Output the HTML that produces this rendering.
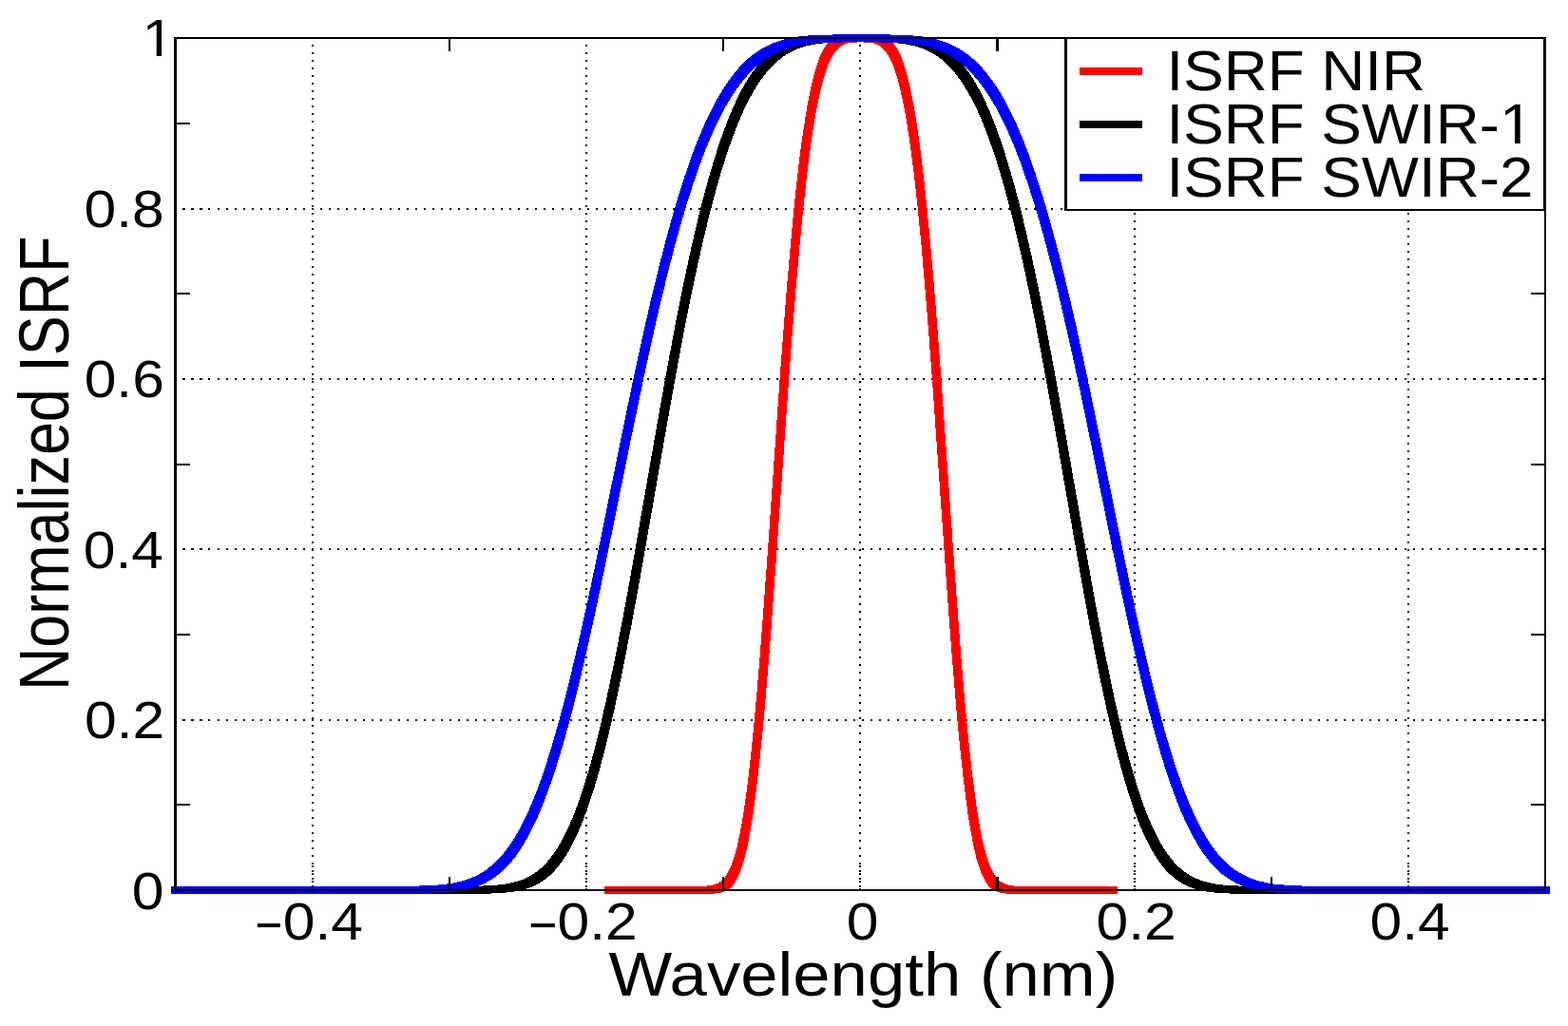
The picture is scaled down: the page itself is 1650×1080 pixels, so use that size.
<!DOCTYPE html>
<html><head><meta charset="utf-8"><title>Normalized ISRF vs Wavelength</title>
<style>html,body{margin:0;padding:0;background:#fff;overflow:hidden;}svg{display:block;}.t text{font-family:"Liberation Sans",Arial,Helvetica,sans-serif;}</style>
</head><body>
<svg width="1650" height="1080" viewBox="0 0 1650 1080">
<defs><clipPath id="c1"><rect x="0" y="0" width="400" height="54.09"/><rect x="164.61" y="0" width="5.39" height="100"/></clipPath><clipPath id="c2"><rect x="0" y="0" width="1650" height="145.73"/><rect x="0" y="0" width="1581.87" height="300"/><rect x="1594.05" y="0" width="5.67" height="300"/></clipPath></defs>
<rect width="1650" height="1080" fill="#fff"/>
<g><path fill="#000" d="M328 47h2v2h-2zM328 55h2v2h-2zM328 63h2v2h-2zM328 71h2v2h-2zM328 79h2v2h-2zM328 87h2v2h-2zM328 95h2v2h-2zM328 103h2v2h-2zM328 111h2v2h-2zM328 119h2v2h-2zM328 127h2v2h-2zM328 136h2v2h-2zM328 144h2v2h-2zM328 152h2v2h-2zM328 160h2v2h-2zM328 168h2v2h-2zM328 176h2v2h-2zM328 184h2v2h-2zM328 192h2v2h-2zM328 200h2v2h-2zM328 208h2v2h-2zM328 216h2v2h-2zM328 224h2v2h-2zM328 232h2v2h-2zM328 240h2v2h-2zM328 248h2v2h-2zM328 256h2v2h-2zM328 264h2v2h-2zM328 272h2v2h-2zM328 280h2v2h-2zM328 288h2v2h-2zM328 297h2v2h-2zM328 305h2v2h-2zM328 313h2v2h-2zM328 321h2v2h-2zM328 329h2v2h-2zM328 337h2v2h-2zM328 345h2v2h-2zM328 353h2v2h-2zM328 361h2v2h-2zM328 369h2v2h-2zM328 377h2v2h-2zM328 385h2v2h-2zM328 393h2v2h-2zM328 401h2v2h-2zM328 409h2v2h-2zM328 417h2v2h-2zM328 425h2v2h-2zM328 433h2v2h-2zM328 441h2v2h-2zM328 449h2v2h-2zM328 458h2v2h-2zM328 466h2v2h-2zM328 474h2v2h-2zM328 482h2v2h-2zM328 490h2v2h-2zM328 498h2v2h-2zM328 506h2v2h-2zM328 514h2v2h-2zM328 522h2v2h-2zM328 530h2v2h-2zM328 538h2v2h-2zM328 546h2v2h-2zM328 554h2v2h-2zM328 562h2v2h-2zM328 570h2v2h-2zM328 578h2v2h-2zM328 586h2v2h-2zM328 594h2v2h-2zM328 602h2v2h-2zM328 610h2v2h-2zM328 619h2v2h-2zM328 627h2v2h-2zM328 635h2v2h-2zM328 643h2v2h-2zM328 651h2v2h-2zM328 659h2v2h-2zM328 667h2v2h-2zM328 675h2v2h-2zM328 683h2v2h-2zM328 691h2v2h-2zM328 699h2v2h-2zM328 707h2v2h-2zM328 715h2v2h-2zM328 723h2v2h-2zM328 731h2v2h-2zM328 739h2v2h-2zM328 747h2v2h-2zM328 755h2v2h-2zM328 763h2v2h-2zM328 771h2v2h-2zM328 780h2v2h-2zM328 788h2v2h-2zM328 796h2v2h-2zM328 804h2v2h-2zM328 812h2v2h-2zM328 820h2v2h-2zM328 828h2v2h-2zM328 836h2v2h-2zM328 844h2v2h-2zM328 852h2v2h-2zM328 860h2v2h-2zM328 868h2v2h-2zM328 876h2v2h-2zM328 884h2v2h-2zM328 892h2v2h-2zM328 900h2v2h-2zM328 908h2v2h-2zM328 916h2v2h-2zM328 924h2v2h-2zM328 932h2v2h-2zM616 47h2v2h-2zM616 55h2v2h-2zM616 63h2v2h-2zM616 71h2v2h-2zM616 79h2v2h-2zM616 87h2v2h-2zM616 95h2v2h-2zM616 103h2v2h-2zM616 111h2v2h-2zM616 119h2v2h-2zM616 127h2v2h-2zM616 136h2v2h-2zM616 144h2v2h-2zM616 152h2v2h-2zM616 160h2v2h-2zM616 168h2v2h-2zM616 176h2v2h-2zM616 184h2v2h-2zM616 192h2v2h-2zM616 200h2v2h-2zM616 208h2v2h-2zM616 216h2v2h-2zM616 224h2v2h-2zM616 232h2v2h-2zM616 240h2v2h-2zM616 248h2v2h-2zM616 256h2v2h-2zM616 264h2v2h-2zM616 272h2v2h-2zM616 280h2v2h-2zM616 288h2v2h-2zM616 297h2v2h-2zM616 305h2v2h-2zM616 313h2v2h-2zM616 321h2v2h-2zM616 329h2v2h-2zM616 337h2v2h-2zM616 345h2v2h-2zM616 353h2v2h-2zM616 361h2v2h-2zM616 369h2v2h-2zM616 377h2v2h-2zM616 385h2v2h-2zM616 393h2v2h-2zM616 401h2v2h-2zM616 409h2v2h-2zM616 417h2v2h-2zM616 425h2v2h-2zM616 433h2v2h-2zM616 441h2v2h-2zM616 449h2v2h-2zM616 458h2v2h-2zM616 466h2v2h-2zM616 474h2v2h-2zM616 482h2v2h-2zM616 490h2v2h-2zM616 498h2v2h-2zM616 506h2v2h-2zM616 514h2v2h-2zM616 522h2v2h-2zM616 530h2v2h-2zM616 538h2v2h-2zM616 546h2v2h-2zM616 554h2v2h-2zM616 562h2v2h-2zM616 570h2v2h-2zM616 578h2v2h-2zM616 586h2v2h-2zM616 594h2v2h-2zM616 602h2v2h-2zM616 610h2v2h-2zM616 619h2v2h-2zM616 627h2v2h-2zM616 635h2v2h-2zM616 643h2v2h-2zM616 651h2v2h-2zM616 659h2v2h-2zM616 667h2v2h-2zM616 675h2v2h-2zM616 683h2v2h-2zM616 691h2v2h-2zM616 699h2v2h-2zM616 707h2v2h-2zM616 715h2v2h-2zM616 723h2v2h-2zM616 731h2v2h-2zM616 739h2v2h-2zM616 747h2v2h-2zM616 755h2v2h-2zM616 763h2v2h-2zM616 771h2v2h-2zM616 780h2v2h-2zM616 788h2v2h-2zM616 796h2v2h-2zM616 804h2v2h-2zM616 812h2v2h-2zM616 820h2v2h-2zM616 828h2v2h-2zM616 836h2v2h-2zM616 844h2v2h-2zM616 852h2v2h-2zM616 860h2v2h-2zM616 868h2v2h-2zM616 876h2v2h-2zM616 884h2v2h-2zM616 892h2v2h-2zM616 900h2v2h-2zM616 908h2v2h-2zM616 916h2v2h-2zM616 924h2v2h-2zM616 932h2v2h-2zM904 47h2v2h-2zM904 55h2v2h-2zM904 63h2v2h-2zM904 71h2v2h-2zM904 79h2v2h-2zM904 87h2v2h-2zM904 95h2v2h-2zM904 103h2v2h-2zM904 111h2v2h-2zM904 119h2v2h-2zM904 127h2v2h-2zM904 136h2v2h-2zM904 144h2v2h-2zM904 152h2v2h-2zM904 160h2v2h-2zM904 168h2v2h-2zM904 176h2v2h-2zM904 184h2v2h-2zM904 192h2v2h-2zM904 200h2v2h-2zM904 208h2v2h-2zM904 216h2v2h-2zM904 224h2v2h-2zM904 232h2v2h-2zM904 240h2v2h-2zM904 248h2v2h-2zM904 256h2v2h-2zM904 264h2v2h-2zM904 272h2v2h-2zM904 280h2v2h-2zM904 288h2v2h-2zM904 297h2v2h-2zM904 305h2v2h-2zM904 313h2v2h-2zM904 321h2v2h-2zM904 329h2v2h-2zM904 337h2v2h-2zM904 345h2v2h-2zM904 353h2v2h-2zM904 361h2v2h-2zM904 369h2v2h-2zM904 377h2v2h-2zM904 385h2v2h-2zM904 393h2v2h-2zM904 401h2v2h-2zM904 409h2v2h-2zM904 417h2v2h-2zM904 425h2v2h-2zM904 433h2v2h-2zM904 441h2v2h-2zM904 449h2v2h-2zM904 458h2v2h-2zM904 466h2v2h-2zM904 474h2v2h-2zM904 482h2v2h-2zM904 490h2v2h-2zM904 498h2v2h-2zM904 506h2v2h-2zM904 514h2v2h-2zM904 522h2v2h-2zM904 530h2v2h-2zM904 538h2v2h-2zM904 546h2v2h-2zM904 554h2v2h-2zM904 562h2v2h-2zM904 570h2v2h-2zM904 578h2v2h-2zM904 586h2v2h-2zM904 594h2v2h-2zM904 602h2v2h-2zM904 610h2v2h-2zM904 619h2v2h-2zM904 627h2v2h-2zM904 635h2v2h-2zM904 643h2v2h-2zM904 651h2v2h-2zM904 659h2v2h-2zM904 667h2v2h-2zM904 675h2v2h-2zM904 683h2v2h-2zM904 691h2v2h-2zM904 699h2v2h-2zM904 707h2v2h-2zM904 715h2v2h-2zM904 723h2v2h-2zM904 731h2v2h-2zM904 739h2v2h-2zM904 747h2v2h-2zM904 755h2v2h-2zM904 763h2v2h-2zM904 771h2v2h-2zM904 780h2v2h-2zM904 788h2v2h-2zM904 796h2v2h-2zM904 804h2v2h-2zM904 812h2v2h-2zM904 820h2v2h-2zM904 828h2v2h-2zM904 836h2v2h-2zM904 844h2v2h-2zM904 852h2v2h-2zM904 860h2v2h-2zM904 868h2v2h-2zM904 876h2v2h-2zM904 884h2v2h-2zM904 892h2v2h-2zM904 900h2v2h-2zM904 908h2v2h-2zM904 916h2v2h-2zM904 924h2v2h-2zM904 932h2v2h-2zM1193 47h2v2h-2zM1193 55h2v2h-2zM1193 63h2v2h-2zM1193 71h2v2h-2zM1193 79h2v2h-2zM1193 87h2v2h-2zM1193 95h2v2h-2zM1193 103h2v2h-2zM1193 111h2v2h-2zM1193 119h2v2h-2zM1193 127h2v2h-2zM1193 136h2v2h-2zM1193 144h2v2h-2zM1193 152h2v2h-2zM1193 160h2v2h-2zM1193 168h2v2h-2zM1193 176h2v2h-2zM1193 184h2v2h-2zM1193 192h2v2h-2zM1193 200h2v2h-2zM1193 208h2v2h-2zM1193 216h2v2h-2zM1193 224h2v2h-2zM1193 232h2v2h-2zM1193 240h2v2h-2zM1193 248h2v2h-2zM1193 256h2v2h-2zM1193 264h2v2h-2zM1193 272h2v2h-2zM1193 280h2v2h-2zM1193 288h2v2h-2zM1193 297h2v2h-2zM1193 305h2v2h-2zM1193 313h2v2h-2zM1193 321h2v2h-2zM1193 329h2v2h-2zM1193 337h2v2h-2zM1193 345h2v2h-2zM1193 353h2v2h-2zM1193 361h2v2h-2zM1193 369h2v2h-2zM1193 377h2v2h-2zM1193 385h2v2h-2zM1193 393h2v2h-2zM1193 401h2v2h-2zM1193 409h2v2h-2zM1193 417h2v2h-2zM1193 425h2v2h-2zM1193 433h2v2h-2zM1193 441h2v2h-2zM1193 449h2v2h-2zM1193 458h2v2h-2zM1193 466h2v2h-2zM1193 474h2v2h-2zM1193 482h2v2h-2zM1193 490h2v2h-2zM1193 498h2v2h-2zM1193 506h2v2h-2zM1193 514h2v2h-2zM1193 522h2v2h-2zM1193 530h2v2h-2zM1193 538h2v2h-2zM1193 546h2v2h-2zM1193 554h2v2h-2zM1193 562h2v2h-2zM1193 570h2v2h-2zM1193 578h2v2h-2zM1193 586h2v2h-2zM1193 594h2v2h-2zM1193 602h2v2h-2zM1193 610h2v2h-2zM1193 619h2v2h-2zM1193 627h2v2h-2zM1193 635h2v2h-2zM1193 643h2v2h-2zM1193 651h2v2h-2zM1193 659h2v2h-2zM1193 667h2v2h-2zM1193 675h2v2h-2zM1193 683h2v2h-2zM1193 691h2v2h-2zM1193 699h2v2h-2zM1193 707h2v2h-2zM1193 715h2v2h-2zM1193 723h2v2h-2zM1193 731h2v2h-2zM1193 739h2v2h-2zM1193 747h2v2h-2zM1193 755h2v2h-2zM1193 763h2v2h-2zM1193 771h2v2h-2zM1193 780h2v2h-2zM1193 788h2v2h-2zM1193 796h2v2h-2zM1193 804h2v2h-2zM1193 812h2v2h-2zM1193 820h2v2h-2zM1193 828h2v2h-2zM1193 836h2v2h-2zM1193 844h2v2h-2zM1193 852h2v2h-2zM1193 860h2v2h-2zM1193 868h2v2h-2zM1193 876h2v2h-2zM1193 884h2v2h-2zM1193 892h2v2h-2zM1193 900h2v2h-2zM1193 908h2v2h-2zM1193 916h2v2h-2zM1193 924h2v2h-2zM1193 932h2v2h-2zM1481 47h2v2h-2zM1481 55h2v2h-2zM1481 63h2v2h-2zM1481 71h2v2h-2zM1481 79h2v2h-2zM1481 87h2v2h-2zM1481 95h2v2h-2zM1481 103h2v2h-2zM1481 111h2v2h-2zM1481 119h2v2h-2zM1481 127h2v2h-2zM1481 136h2v2h-2zM1481 144h2v2h-2zM1481 152h2v2h-2zM1481 160h2v2h-2zM1481 168h2v2h-2zM1481 176h2v2h-2zM1481 184h2v2h-2zM1481 192h2v2h-2zM1481 200h2v2h-2zM1481 208h2v2h-2zM1481 216h2v2h-2zM1481 224h2v2h-2zM1481 232h2v2h-2zM1481 240h2v2h-2zM1481 248h2v2h-2zM1481 256h2v2h-2zM1481 264h2v2h-2zM1481 272h2v2h-2zM1481 280h2v2h-2zM1481 288h2v2h-2zM1481 297h2v2h-2zM1481 305h2v2h-2zM1481 313h2v2h-2zM1481 321h2v2h-2zM1481 329h2v2h-2zM1481 337h2v2h-2zM1481 345h2v2h-2zM1481 353h2v2h-2zM1481 361h2v2h-2zM1481 369h2v2h-2zM1481 377h2v2h-2zM1481 385h2v2h-2zM1481 393h2v2h-2zM1481 401h2v2h-2zM1481 409h2v2h-2zM1481 417h2v2h-2zM1481 425h2v2h-2zM1481 433h2v2h-2zM1481 441h2v2h-2zM1481 449h2v2h-2zM1481 458h2v2h-2zM1481 466h2v2h-2zM1481 474h2v2h-2zM1481 482h2v2h-2zM1481 490h2v2h-2zM1481 498h2v2h-2zM1481 506h2v2h-2zM1481 514h2v2h-2zM1481 522h2v2h-2zM1481 530h2v2h-2zM1481 538h2v2h-2zM1481 546h2v2h-2zM1481 554h2v2h-2zM1481 562h2v2h-2zM1481 570h2v2h-2zM1481 578h2v2h-2zM1481 586h2v2h-2zM1481 594h2v2h-2zM1481 602h2v2h-2zM1481 610h2v2h-2zM1481 619h2v2h-2zM1481 627h2v2h-2zM1481 635h2v2h-2zM1481 643h2v2h-2zM1481 651h2v2h-2zM1481 659h2v2h-2zM1481 667h2v2h-2zM1481 675h2v2h-2zM1481 683h2v2h-2zM1481 691h2v2h-2zM1481 699h2v2h-2zM1481 707h2v2h-2zM1481 715h2v2h-2zM1481 723h2v2h-2zM1481 731h2v2h-2zM1481 739h2v2h-2zM1481 747h2v2h-2zM1481 755h2v2h-2zM1481 763h2v2h-2zM1481 771h2v2h-2zM1481 780h2v2h-2zM1481 788h2v2h-2zM1481 796h2v2h-2zM1481 804h2v2h-2zM1481 812h2v2h-2zM1481 820h2v2h-2zM1481 828h2v2h-2zM1481 836h2v2h-2zM1481 844h2v2h-2zM1481 852h2v2h-2zM1481 860h2v2h-2zM1481 868h2v2h-2zM1481 876h2v2h-2zM1481 884h2v2h-2zM1481 892h2v2h-2zM1481 900h2v2h-2zM1481 908h2v2h-2zM1481 916h2v2h-2zM1481 924h2v2h-2zM1481 932h2v2h-2zM192 219h2v2h-2zM201 219h2v2h-2zM210 219h2v2h-2zM219 219h2v2h-2zM229 219h2v2h-2zM238 219h2v2h-2zM247 219h2v2h-2zM256 219h2v2h-2zM265 219h2v2h-2zM274 219h2v2h-2zM283 219h2v2h-2zM292 219h2v2h-2zM301 219h2v2h-2zM310 219h2v2h-2zM319 219h2v2h-2zM328 219h2v2h-2zM337 219h2v2h-2zM346 219h2v2h-2zM355 219h2v2h-2zM364 219h2v2h-2zM373 219h2v2h-2zM382 219h2v2h-2zM391 219h2v2h-2zM400 219h2v2h-2zM410 219h2v2h-2zM419 219h2v2h-2zM428 219h2v2h-2zM437 219h2v2h-2zM446 219h2v2h-2zM455 219h2v2h-2zM464 219h2v2h-2zM473 219h2v2h-2zM482 219h2v2h-2zM491 219h2v2h-2zM500 219h2v2h-2zM509 219h2v2h-2zM518 219h2v2h-2zM527 219h2v2h-2zM536 219h2v2h-2zM545 219h2v2h-2zM554 219h2v2h-2zM563 219h2v2h-2zM572 219h2v2h-2zM581 219h2v2h-2zM591 219h2v2h-2zM600 219h2v2h-2zM609 219h2v2h-2zM618 219h2v2h-2zM627 219h2v2h-2zM636 219h2v2h-2zM645 219h2v2h-2zM654 219h2v2h-2zM663 219h2v2h-2zM672 219h2v2h-2zM681 219h2v2h-2zM690 219h2v2h-2zM699 219h2v2h-2zM708 219h2v2h-2zM717 219h2v2h-2zM726 219h2v2h-2zM735 219h2v2h-2zM744 219h2v2h-2zM753 219h2v2h-2zM763 219h2v2h-2zM772 219h2v2h-2zM781 219h2v2h-2zM790 219h2v2h-2zM799 219h2v2h-2zM808 219h2v2h-2zM817 219h2v2h-2zM826 219h2v2h-2zM835 219h2v2h-2zM844 219h2v2h-2zM853 219h2v2h-2zM862 219h2v2h-2zM871 219h2v2h-2zM880 219h2v2h-2zM889 219h2v2h-2zM898 219h2v2h-2zM907 219h2v2h-2zM916 219h2v2h-2zM925 219h2v2h-2zM934 219h2v2h-2zM944 219h2v2h-2zM953 219h2v2h-2zM962 219h2v2h-2zM971 219h2v2h-2zM980 219h2v2h-2zM989 219h2v2h-2zM998 219h2v2h-2zM1007 219h2v2h-2zM1016 219h2v2h-2zM1025 219h2v2h-2zM1034 219h2v2h-2zM1043 219h2v2h-2zM1052 219h2v2h-2zM1061 219h2v2h-2zM1070 219h2v2h-2zM1079 219h2v2h-2zM1088 219h2v2h-2zM1097 219h2v2h-2zM1106 219h2v2h-2zM1116 219h2v2h-2zM1125 219h2v2h-2zM1134 219h2v2h-2zM1143 219h2v2h-2zM1152 219h2v2h-2zM1161 219h2v2h-2zM1170 219h2v2h-2zM1179 219h2v2h-2zM1188 219h2v2h-2zM1197 219h2v2h-2zM1206 219h2v2h-2zM1215 219h2v2h-2zM1224 219h2v2h-2zM1233 219h2v2h-2zM1242 219h2v2h-2zM1251 219h2v2h-2zM1260 219h2v2h-2zM1269 219h2v2h-2zM1278 219h2v2h-2zM1287 219h2v2h-2zM1297 219h2v2h-2zM1306 219h2v2h-2zM1315 219h2v2h-2zM1324 219h2v2h-2zM1333 219h2v2h-2zM1342 219h2v2h-2zM1351 219h2v2h-2zM1360 219h2v2h-2zM1369 219h2v2h-2zM1378 219h2v2h-2zM1387 219h2v2h-2zM1396 219h2v2h-2zM1405 219h2v2h-2zM1414 219h2v2h-2zM1423 219h2v2h-2zM1432 219h2v2h-2zM1441 219h2v2h-2zM1450 219h2v2h-2zM1459 219h2v2h-2zM1468 219h2v2h-2zM1478 219h2v2h-2zM1487 219h2v2h-2zM1496 219h2v2h-2zM1505 219h2v2h-2zM1514 219h2v2h-2zM1523 219h2v2h-2zM1532 219h2v2h-2zM1541 219h2v2h-2zM1550 219h2v2h-2zM1559 219h2v2h-2zM1568 219h2v2h-2zM1577 219h2v2h-2zM1586 219h2v2h-2zM1595 219h2v2h-2zM1604 219h2v2h-2zM1613 219h2v2h-2zM1622 219h2v2h-2zM192 398h2v2h-2zM201 398h2v2h-2zM210 398h2v2h-2zM219 398h2v2h-2zM229 398h2v2h-2zM238 398h2v2h-2zM247 398h2v2h-2zM256 398h2v2h-2zM265 398h2v2h-2zM274 398h2v2h-2zM283 398h2v2h-2zM292 398h2v2h-2zM301 398h2v2h-2zM310 398h2v2h-2zM319 398h2v2h-2zM328 398h2v2h-2zM337 398h2v2h-2zM346 398h2v2h-2zM355 398h2v2h-2zM364 398h2v2h-2zM373 398h2v2h-2zM382 398h2v2h-2zM391 398h2v2h-2zM400 398h2v2h-2zM410 398h2v2h-2zM419 398h2v2h-2zM428 398h2v2h-2zM437 398h2v2h-2zM446 398h2v2h-2zM455 398h2v2h-2zM464 398h2v2h-2zM473 398h2v2h-2zM482 398h2v2h-2zM491 398h2v2h-2zM500 398h2v2h-2zM509 398h2v2h-2zM518 398h2v2h-2zM527 398h2v2h-2zM536 398h2v2h-2zM545 398h2v2h-2zM554 398h2v2h-2zM563 398h2v2h-2zM572 398h2v2h-2zM581 398h2v2h-2zM591 398h2v2h-2zM600 398h2v2h-2zM609 398h2v2h-2zM618 398h2v2h-2zM627 398h2v2h-2zM636 398h2v2h-2zM645 398h2v2h-2zM654 398h2v2h-2zM663 398h2v2h-2zM672 398h2v2h-2zM681 398h2v2h-2zM690 398h2v2h-2zM699 398h2v2h-2zM708 398h2v2h-2zM717 398h2v2h-2zM726 398h2v2h-2zM735 398h2v2h-2zM744 398h2v2h-2zM753 398h2v2h-2zM763 398h2v2h-2zM772 398h2v2h-2zM781 398h2v2h-2zM790 398h2v2h-2zM799 398h2v2h-2zM808 398h2v2h-2zM817 398h2v2h-2zM826 398h2v2h-2zM835 398h2v2h-2zM844 398h2v2h-2zM853 398h2v2h-2zM862 398h2v2h-2zM871 398h2v2h-2zM880 398h2v2h-2zM889 398h2v2h-2zM898 398h2v2h-2zM907 398h2v2h-2zM916 398h2v2h-2zM925 398h2v2h-2zM934 398h2v2h-2zM944 398h2v2h-2zM953 398h2v2h-2zM962 398h2v2h-2zM971 398h2v2h-2zM980 398h2v2h-2zM989 398h2v2h-2zM998 398h2v2h-2zM1007 398h2v2h-2zM1016 398h2v2h-2zM1025 398h2v2h-2zM1034 398h2v2h-2zM1043 398h2v2h-2zM1052 398h2v2h-2zM1061 398h2v2h-2zM1070 398h2v2h-2zM1079 398h2v2h-2zM1088 398h2v2h-2zM1097 398h2v2h-2zM1106 398h2v2h-2zM1116 398h2v2h-2zM1125 398h2v2h-2zM1134 398h2v2h-2zM1143 398h2v2h-2zM1152 398h2v2h-2zM1161 398h2v2h-2zM1170 398h2v2h-2zM1179 398h2v2h-2zM1188 398h2v2h-2zM1197 398h2v2h-2zM1206 398h2v2h-2zM1215 398h2v2h-2zM1224 398h2v2h-2zM1233 398h2v2h-2zM1242 398h2v2h-2zM1251 398h2v2h-2zM1260 398h2v2h-2zM1269 398h2v2h-2zM1278 398h2v2h-2zM1287 398h2v2h-2zM1297 398h2v2h-2zM1306 398h2v2h-2zM1315 398h2v2h-2zM1324 398h2v2h-2zM1333 398h2v2h-2zM1342 398h2v2h-2zM1351 398h2v2h-2zM1360 398h2v2h-2zM1369 398h2v2h-2zM1378 398h2v2h-2zM1387 398h2v2h-2zM1396 398h2v2h-2zM1405 398h2v2h-2zM1414 398h2v2h-2zM1423 398h2v2h-2zM1432 398h2v2h-2zM1441 398h2v2h-2zM1450 398h2v2h-2zM1459 398h2v2h-2zM1468 398h2v2h-2zM1478 398h2v2h-2zM1487 398h2v2h-2zM1496 398h2v2h-2zM1505 398h2v2h-2zM1514 398h2v2h-2zM1523 398h2v2h-2zM1532 398h2v2h-2zM1541 398h2v2h-2zM1550 398h2v2h-2zM1559 398h2v2h-2zM1568 398h2v2h-2zM1577 398h2v2h-2zM1586 398h2v2h-2zM1595 398h2v2h-2zM1604 398h2v2h-2zM1613 398h2v2h-2zM1622 398h2v2h-2zM192 577h2v2h-2zM201 577h2v2h-2zM210 577h2v2h-2zM219 577h2v2h-2zM229 577h2v2h-2zM238 577h2v2h-2zM247 577h2v2h-2zM256 577h2v2h-2zM265 577h2v2h-2zM274 577h2v2h-2zM283 577h2v2h-2zM292 577h2v2h-2zM301 577h2v2h-2zM310 577h2v2h-2zM319 577h2v2h-2zM328 577h2v2h-2zM337 577h2v2h-2zM346 577h2v2h-2zM355 577h2v2h-2zM364 577h2v2h-2zM373 577h2v2h-2zM382 577h2v2h-2zM391 577h2v2h-2zM400 577h2v2h-2zM410 577h2v2h-2zM419 577h2v2h-2zM428 577h2v2h-2zM437 577h2v2h-2zM446 577h2v2h-2zM455 577h2v2h-2zM464 577h2v2h-2zM473 577h2v2h-2zM482 577h2v2h-2zM491 577h2v2h-2zM500 577h2v2h-2zM509 577h2v2h-2zM518 577h2v2h-2zM527 577h2v2h-2zM536 577h2v2h-2zM545 577h2v2h-2zM554 577h2v2h-2zM563 577h2v2h-2zM572 577h2v2h-2zM581 577h2v2h-2zM591 577h2v2h-2zM600 577h2v2h-2zM609 577h2v2h-2zM618 577h2v2h-2zM627 577h2v2h-2zM636 577h2v2h-2zM645 577h2v2h-2zM654 577h2v2h-2zM663 577h2v2h-2zM672 577h2v2h-2zM681 577h2v2h-2zM690 577h2v2h-2zM699 577h2v2h-2zM708 577h2v2h-2zM717 577h2v2h-2zM726 577h2v2h-2zM735 577h2v2h-2zM744 577h2v2h-2zM753 577h2v2h-2zM763 577h2v2h-2zM772 577h2v2h-2zM781 577h2v2h-2zM790 577h2v2h-2zM799 577h2v2h-2zM808 577h2v2h-2zM817 577h2v2h-2zM826 577h2v2h-2zM835 577h2v2h-2zM844 577h2v2h-2zM853 577h2v2h-2zM862 577h2v2h-2zM871 577h2v2h-2zM880 577h2v2h-2zM889 577h2v2h-2zM898 577h2v2h-2zM907 577h2v2h-2zM916 577h2v2h-2zM925 577h2v2h-2zM934 577h2v2h-2zM944 577h2v2h-2zM953 577h2v2h-2zM962 577h2v2h-2zM971 577h2v2h-2zM980 577h2v2h-2zM989 577h2v2h-2zM998 577h2v2h-2zM1007 577h2v2h-2zM1016 577h2v2h-2zM1025 577h2v2h-2zM1034 577h2v2h-2zM1043 577h2v2h-2zM1052 577h2v2h-2zM1061 577h2v2h-2zM1070 577h2v2h-2zM1079 577h2v2h-2zM1088 577h2v2h-2zM1097 577h2v2h-2zM1106 577h2v2h-2zM1116 577h2v2h-2zM1125 577h2v2h-2zM1134 577h2v2h-2zM1143 577h2v2h-2zM1152 577h2v2h-2zM1161 577h2v2h-2zM1170 577h2v2h-2zM1179 577h2v2h-2zM1188 577h2v2h-2zM1197 577h2v2h-2zM1206 577h2v2h-2zM1215 577h2v2h-2zM1224 577h2v2h-2zM1233 577h2v2h-2zM1242 577h2v2h-2zM1251 577h2v2h-2zM1260 577h2v2h-2zM1269 577h2v2h-2zM1278 577h2v2h-2zM1287 577h2v2h-2zM1297 577h2v2h-2zM1306 577h2v2h-2zM1315 577h2v2h-2zM1324 577h2v2h-2zM1333 577h2v2h-2zM1342 577h2v2h-2zM1351 577h2v2h-2zM1360 577h2v2h-2zM1369 577h2v2h-2zM1378 577h2v2h-2zM1387 577h2v2h-2zM1396 577h2v2h-2zM1405 577h2v2h-2zM1414 577h2v2h-2zM1423 577h2v2h-2zM1432 577h2v2h-2zM1441 577h2v2h-2zM1450 577h2v2h-2zM1459 577h2v2h-2zM1468 577h2v2h-2zM1478 577h2v2h-2zM1487 577h2v2h-2zM1496 577h2v2h-2zM1505 577h2v2h-2zM1514 577h2v2h-2zM1523 577h2v2h-2zM1532 577h2v2h-2zM1541 577h2v2h-2zM1550 577h2v2h-2zM1559 577h2v2h-2zM1568 577h2v2h-2zM1577 577h2v2h-2zM1586 577h2v2h-2zM1595 577h2v2h-2zM1604 577h2v2h-2zM1613 577h2v2h-2zM1622 577h2v2h-2zM192 757h2v2h-2zM201 757h2v2h-2zM210 757h2v2h-2zM219 757h2v2h-2zM229 757h2v2h-2zM238 757h2v2h-2zM247 757h2v2h-2zM256 757h2v2h-2zM265 757h2v2h-2zM274 757h2v2h-2zM283 757h2v2h-2zM292 757h2v2h-2zM301 757h2v2h-2zM310 757h2v2h-2zM319 757h2v2h-2zM328 757h2v2h-2zM337 757h2v2h-2zM346 757h2v2h-2zM355 757h2v2h-2zM364 757h2v2h-2zM373 757h2v2h-2zM382 757h2v2h-2zM391 757h2v2h-2zM400 757h2v2h-2zM410 757h2v2h-2zM419 757h2v2h-2zM428 757h2v2h-2zM437 757h2v2h-2zM446 757h2v2h-2zM455 757h2v2h-2zM464 757h2v2h-2zM473 757h2v2h-2zM482 757h2v2h-2zM491 757h2v2h-2zM500 757h2v2h-2zM509 757h2v2h-2zM518 757h2v2h-2zM527 757h2v2h-2zM536 757h2v2h-2zM545 757h2v2h-2zM554 757h2v2h-2zM563 757h2v2h-2zM572 757h2v2h-2zM581 757h2v2h-2zM591 757h2v2h-2zM600 757h2v2h-2zM609 757h2v2h-2zM618 757h2v2h-2zM627 757h2v2h-2zM636 757h2v2h-2zM645 757h2v2h-2zM654 757h2v2h-2zM663 757h2v2h-2zM672 757h2v2h-2zM681 757h2v2h-2zM690 757h2v2h-2zM699 757h2v2h-2zM708 757h2v2h-2zM717 757h2v2h-2zM726 757h2v2h-2zM735 757h2v2h-2zM744 757h2v2h-2zM753 757h2v2h-2zM763 757h2v2h-2zM772 757h2v2h-2zM781 757h2v2h-2zM790 757h2v2h-2zM799 757h2v2h-2zM808 757h2v2h-2zM817 757h2v2h-2zM826 757h2v2h-2zM835 757h2v2h-2zM844 757h2v2h-2zM853 757h2v2h-2zM862 757h2v2h-2zM871 757h2v2h-2zM880 757h2v2h-2zM889 757h2v2h-2zM898 757h2v2h-2zM907 757h2v2h-2zM916 757h2v2h-2zM925 757h2v2h-2zM934 757h2v2h-2zM944 757h2v2h-2zM953 757h2v2h-2zM962 757h2v2h-2zM971 757h2v2h-2zM980 757h2v2h-2zM989 757h2v2h-2zM998 757h2v2h-2zM1007 757h2v2h-2zM1016 757h2v2h-2zM1025 757h2v2h-2zM1034 757h2v2h-2zM1043 757h2v2h-2zM1052 757h2v2h-2zM1061 757h2v2h-2zM1070 757h2v2h-2zM1079 757h2v2h-2zM1088 757h2v2h-2zM1097 757h2v2h-2zM1106 757h2v2h-2zM1116 757h2v2h-2zM1125 757h2v2h-2zM1134 757h2v2h-2zM1143 757h2v2h-2zM1152 757h2v2h-2zM1161 757h2v2h-2zM1170 757h2v2h-2zM1179 757h2v2h-2zM1188 757h2v2h-2zM1197 757h2v2h-2zM1206 757h2v2h-2zM1215 757h2v2h-2zM1224 757h2v2h-2zM1233 757h2v2h-2zM1242 757h2v2h-2zM1251 757h2v2h-2zM1260 757h2v2h-2zM1269 757h2v2h-2zM1278 757h2v2h-2zM1287 757h2v2h-2zM1297 757h2v2h-2zM1306 757h2v2h-2zM1315 757h2v2h-2zM1324 757h2v2h-2zM1333 757h2v2h-2zM1342 757h2v2h-2zM1351 757h2v2h-2zM1360 757h2v2h-2zM1369 757h2v2h-2zM1378 757h2v2h-2zM1387 757h2v2h-2zM1396 757h2v2h-2zM1405 757h2v2h-2zM1414 757h2v2h-2zM1423 757h2v2h-2zM1432 757h2v2h-2zM1441 757h2v2h-2zM1450 757h2v2h-2zM1459 757h2v2h-2zM1468 757h2v2h-2zM1478 757h2v2h-2zM1487 757h2v2h-2zM1496 757h2v2h-2zM1505 757h2v2h-2zM1514 757h2v2h-2zM1523 757h2v2h-2zM1532 757h2v2h-2zM1541 757h2v2h-2zM1550 757h2v2h-2zM1559 757h2v2h-2zM1568 757h2v2h-2zM1577 757h2v2h-2zM1586 757h2v2h-2zM1595 757h2v2h-2zM1604 757h2v2h-2zM1613 757h2v2h-2zM1622 757h2v2h-2z"/></g>
<g><path fill="#ff0000" shape-rendering="crispEdges" d="M635.5,933.0 733.5,932.9 739.0,932.8 743.3,932.6 746.8,932.2 749.8,931.6 751.9,931.0 753.8,930.3 755.6,929.5 757.3,928.5 758.9,927.3 760.4,925.9 761.8,924.4 763.2,922.7 764.6,920.7 765.9,918.5 767.2,916.1 768.4,913.5 770.8,907.6 773.1,900.5 774.4,895.7 775.8,890.4 778.4,878.3 781.0,864.4 783.5,848.3 786.0,830.1 788.5,809.5 791.0,786.5 793.5,761.3 795.7,737.2 798.0,710.9 800.3,681.8 802.8,649.3 807.6,584.0 820.6,398.3 824.7,344.1 828.4,297.1 832.8,247.4 834.9,225.0 837.0,204.4 839.1,185.3 841.2,167.5 843.3,151.2 845.5,136.0 847.9,120.6 850.3,106.7 852.8,94.3 855.4,83.3 858.0,73.5 860.7,65.1 862.1,61.4 863.5,58.0 865.0,54.9 866.5,52.0 867.9,49.6 869.4,47.4 870.9,45.5 872.4,43.8 874.0,42.3 875.7,41.0 877.4,39.8 879.3,38.9 881.1,38.1 883.0,37.6 885.1,37.1 887.3,36.8 892.4,36.5 901.0,36.4 915.2,36.4 920.2,36.5 924.7,36.9 926.7,37.3 928.5,37.7 930.5,38.4 932.3,39.2 934.1,40.1 935.8,41.3 937.4,42.7 939.0,44.2 940.5,45.9 941.9,47.9 943.5,50.3 945.1,53.1 946.6,56.1 948.1,59.4 949.5,63.1 951.0,67.2 952.4,71.5 953.7,76.1 956.4,86.3 959.0,98.1 961.5,111.4 964.0,126.2 966.3,141.1 968.5,157.7 970.8,175.8 973.0,195.1 975.2,216.0 977.4,238.9 979.7,263.4 982.0,290.0 985.9,338.3 990.1,394.2 994.1,450.2 1003.6,586.2 1008.4,652.6 1010.9,685.0 1013.3,714.5 1015.6,741.1 1017.8,765.0 1020.3,789.9 1022.8,812.5 1025.3,832.8 1027.8,850.6 1030.4,866.5 1032.9,880.0 1034.2,886.1 1035.6,891.8 1036.9,897.0 1038.3,901.8 1040.6,908.5 1041.8,911.6 1043.0,914.4 1044.2,916.9 1045.5,919.2 1046.8,921.3 1048.1,923.1 1049.5,924.8 1051.0,926.3 1052.5,927.6 1054.1,928.7 1055.7,929.6 1057.5,930.5 1059.4,931.1 1061.5,931.7 1064.5,932.2 1068.0,932.6 1072.2,932.8 1077.7,933.0 1175.5,933.0 1175.5,941.0 1069.3,941.0 1063.6,940.8 1059.4,940.6 1055.8,940.3 1052.8,939.7 1050.6,939.2 1048.7,938.5 1046.8,937.7 1045.1,936.7 1043.5,935.6 1042.0,934.3 1040.5,932.7 1039.1,931.1 1037.7,929.2 1036.4,927.0 1035.1,924.6 1033.8,922.0 1032.6,919.2 1031.4,916.1 1029.1,909.2 1027.7,904.3 1026.4,899.0 1025.0,893.2 1023.7,886.8 1021.1,872.7 1018.5,856.6 1016.0,838.1 1013.5,817.5 1011.0,794.6 1008.4,768.7 1006.2,744.6 1004.0,718.3 1001.6,689.2 999.1,656.6 994.4,591.3 981.5,407.7 977.5,354.1 973.8,308.2 969.6,259.2 967.5,237.6 965.5,217.2 963.4,198.1 961.4,180.5 959.3,164.1 957.3,149.1 954.9,133.6 952.5,119.4 950.1,106.8 947.6,95.4 945.1,85.3 942.5,76.7 941.1,72.7 939.8,69.2 938.4,65.8 937.0,62.8 935.6,60.1 934.2,57.8 932.7,55.6 931.2,53.6 929.7,51.9 928.1,50.3 926.4,49.0 924.6,47.9 922.9,46.9 921.0,46.2 919.1,45.6 916.9,45.1 914.7,44.8 912.2,44.6 905.5,44.4 898.8,44.6 896.3,44.8 894.0,45.1 891.9,45.6 890.0,46.2 888.1,46.9 886.4,47.9 884.6,49.0 882.9,50.3 881.3,51.9 879.8,53.6 878.3,55.6 876.8,57.8 875.4,60.1 874.0,62.8 872.6,65.8 871.2,69.2 869.9,72.7 868.5,76.7 865.9,85.3 863.4,95.4 860.9,106.8 858.5,119.4 856.1,133.6 853.7,149.1 851.7,164.1 849.6,180.5 847.6,198.1 845.5,217.2 843.5,237.5 841.4,259.2 837.2,308.2 833.5,354.0 829.5,407.7 816.6,591.3 811.9,656.6 809.4,689.2 807.0,718.3 804.8,744.6 802.6,768.7 800.0,794.5 797.5,817.5 795.0,838.1 792.5,856.6 789.9,872.7 787.3,886.8 786.0,893.2 784.6,899.0 783.3,904.3 781.9,909.2 779.6,916.1 778.4,919.2 777.2,922.0 775.9,924.6 774.6,927.0 773.3,929.2 771.9,931.1 770.5,932.7 769.0,934.3 767.5,935.6 765.9,936.7 764.2,937.7 762.3,938.5 760.4,939.2 758.2,939.7 755.2,940.3 751.6,940.6 747.4,940.8 741.7,941.0 635.5,941.0Z"/><path fill="#000000" shape-rendering="crispEdges" d="M180.2,933.0 477.0,933.0 491.6,932.9 502.4,932.7 511.3,932.4 518.9,932.0 524.4,931.5 529.4,930.9 534.1,930.1 538.4,929.3 542.5,928.2 546.4,927.0 550.2,925.7 553.7,924.1 557.2,922.3 560.5,920.4 563.8,918.2 566.9,915.8 570.0,913.1 573.0,910.2 575.9,907.1 578.7,903.7 582.3,899.0 585.9,893.7 589.3,888.1 592.7,881.9 596.1,875.2 599.4,868.1 602.6,860.4 605.9,852.2 609.1,843.4 612.3,834.1 615.5,824.1 618.7,813.5 621.9,802.3 625.1,790.4 628.3,777.8 631.6,764.5 637.2,740.2 642.9,713.5 648.9,683.9 655.2,651.2 661.0,620.2 667.3,584.8 690.5,451.9 700.2,397.6 705.5,369.1 710.4,343.0 715.2,318.8 719.8,296.0 725.3,270.2 730.7,246.3 736.0,224.2 741.3,203.5 746.6,184.4 751.9,166.6 757.2,150.2 762.5,135.3 765.5,127.4 768.5,119.9 771.6,112.8 774.6,106.1 777.7,99.8 780.9,93.7 784.0,88.1 787.2,82.8 790.5,77.9 793.8,73.2 797.1,68.9 800.5,64.9 804.0,61.2 807.6,57.8 811.2,54.7 814.9,51.9 818.5,49.5 822.1,47.4 825.9,45.4 829.8,43.7 833.8,42.2 837.9,40.9 842.3,39.8 846.9,38.8 851.4,38.1 856.2,37.5 861.3,37.1 866.9,36.8 879.5,36.5 901.0,36.4 927.5,36.4 940.3,36.6 946.1,36.9 951.3,37.2 956.2,37.7 960.7,38.3 965.5,39.1 969.9,40.1 974.2,41.2 978.3,42.6 982.3,44.1 986.1,45.9 989.8,47.9 993.4,50.1 997.3,52.7 1001.0,55.7 1004.7,58.9 1008.2,62.5 1011.7,66.3 1015.2,70.5 1018.6,75.0 1021.9,79.8 1025.1,84.9 1028.4,90.5 1031.6,96.4 1034.7,102.6 1037.9,109.2 1041.0,116.2 1044.0,123.5 1047.1,131.3 1049.8,138.7 1052.5,146.3 1057.9,162.6 1063.3,180.4 1068.7,199.6 1074.1,220.4 1079.5,242.9 1085.0,267.1 1090.6,293.1 1095.3,316.1 1100.2,340.7 1105.2,367.2 1110.6,396.2 1120.4,451.4 1143.8,585.4 1150.2,621.0 1156.0,652.3 1162.4,685.2 1168.4,714.7 1174.1,741.3 1179.8,765.7 1183.0,779.0 1186.3,791.6 1189.5,803.4 1192.7,814.5 1195.9,825.1 1199.1,835.0 1202.3,844.3 1205.5,853.0 1208.7,861.2 1212.0,868.9 1215.3,876.0 1218.7,882.6 1222.1,888.7 1225.5,894.3 1229.1,899.5 1232.7,904.2 1235.5,907.5 1238.4,910.6 1241.4,913.4 1244.5,916.0 1247.6,918.4 1250.8,920.6 1254.2,922.5 1257.6,924.2 1261.2,925.8 1264.9,927.1 1268.8,928.3 1272.9,929.3 1277.3,930.2 1281.9,930.9 1286.9,931.5 1292.4,932.0 1299.9,932.4 1308.8,932.7 1319.6,932.9 1334.2,933.0 1630.8,933.0 1630.8,941.0 1325.7,941.0 1311.0,940.9 1300.1,940.7 1291.2,940.4 1283.6,940.0 1278.0,939.5 1273.0,938.9 1268.3,938.2 1263.9,937.3 1259.8,936.3 1255.9,935.1 1252.1,933.8 1248.6,932.2 1245.1,930.5 1241.7,928.5 1238.5,926.3 1235.3,923.9 1232.3,921.3 1229.3,918.4 1226.3,915.3 1223.5,911.9 1219.9,907.2 1216.3,902.0 1212.8,896.2 1209.4,890.1 1206.1,883.4 1202.8,876.3 1199.5,868.6 1196.2,860.3 1193.0,851.4 1189.8,842.1 1186.6,832.1 1183.4,821.5 1180.2,810.3 1176.9,798.2 1173.7,785.6 1170.4,772.3 1164.8,748.0 1159.0,721.0 1153.0,691.4 1146.7,658.7 1141.0,627.6 1134.7,592.5 1111.6,460.2 1102.0,406.4 1096.8,378.1 1091.8,352.0 1087.1,328.1 1082.5,305.4 1077.1,279.8 1071.7,256.0 1066.5,234.0 1061.2,213.4 1056.0,194.4 1050.8,176.7 1045.6,160.3 1040.3,145.3 1037.4,137.5 1034.4,129.9 1031.4,122.8 1028.3,116.0 1025.3,109.7 1022.2,103.6 1019.0,97.9 1015.9,92.5 1012.7,87.5 1009.4,82.8 1006.1,78.4 1002.7,74.3 999.3,70.6 995.8,67.1 992.2,63.9 988.6,60.9 985.0,58.4 981.4,56.2 977.7,54.2 973.9,52.4 969.9,50.8 965.8,49.4 961.5,48.2 957.0,47.2 952.6,46.4 947.8,45.8 942.8,45.3 937.3,44.9 924.9,44.5 905.5,44.4 886.2,44.5 873.8,44.9 868.3,45.3 863.2,45.8 858.5,46.4 854.0,47.2 849.5,48.2 845.2,49.4 841.1,50.8 837.2,52.4 833.3,54.2 829.6,56.2 826.0,58.4 822.5,60.9 818.8,63.9 815.2,67.1 811.7,70.6 808.3,74.3 804.9,78.4 801.6,82.8 798.4,87.5 795.2,92.5 792.0,97.9 788.9,103.6 785.8,109.7 782.7,116.0 779.7,122.8 776.7,129.9 773.7,137.5 770.7,145.3 765.5,160.3 760.2,176.7 755.0,194.4 749.8,213.4 744.6,234.0 739.3,256.0 734.0,279.8 728.5,305.4 723.9,328.1 719.2,352.0 714.3,378.1 709.1,406.4 699.5,460.2 676.4,592.5 670.1,627.6 664.3,658.7 658.0,691.4 652.0,721.0 646.2,748.0 640.6,772.3 637.4,785.6 634.1,798.2 630.9,810.3 627.7,821.5 624.5,832.1 621.3,842.1 618.1,851.4 614.8,860.3 611.6,868.6 608.3,876.3 605.0,883.4 601.6,890.1 598.2,896.2 594.7,902.0 591.2,907.2 587.6,911.9 584.7,915.3 581.8,918.4 578.8,921.3 575.7,923.9 572.6,926.3 569.3,928.5 566.0,930.5 562.5,932.2 558.9,933.8 555.2,935.1 551.3,936.3 547.1,937.3 542.8,938.2 538.1,938.9 533.0,939.5 527.5,940.0 519.9,940.4 510.9,940.7 500.1,940.9 485.4,941.0 180.2,941.0Z"/><path fill="#0000ff" shape-rendering="crispEdges" d="M180.2,933.0 381.9,933.0 418.2,932.9 433.7,932.7 445.7,932.4 455.7,931.9 464.5,931.2 470.2,930.5 475.6,929.7 480.6,928.7 485.3,927.6 489.9,926.3 494.2,924.8 498.3,923.1 502.3,921.2 506.2,919.0 509.9,916.7 513.6,914.1 517.1,911.2 520.6,908.1 524.0,904.8 527.4,901.1 530.6,897.2 534.5,892.2 538.3,886.7 542.0,880.8 545.7,874.5 549.3,867.6 552.9,860.4 556.5,852.7 560.0,844.4 563.6,835.6 567.1,826.3 570.6,816.5 574.1,806.0 577.6,795.1 581.2,783.5 584.7,771.4 588.3,758.5 594.6,734.7 601.1,708.5 607.8,679.9 614.9,648.2 621.5,617.8 628.7,583.4 655.3,452.5 666.5,398.7 672.6,370.3 678.4,344.3 683.9,320.0 689.3,297.4 695.7,271.7 702.0,247.7 708.2,225.4 714.3,204.8 720.5,185.5 726.6,167.8 729.6,159.5 732.7,151.4 735.8,143.7 738.9,136.3 742.4,128.4 746.0,120.8 749.5,113.7 753.1,106.9 756.8,100.4 760.4,94.4 764.1,88.7 767.9,83.4 771.7,78.3 775.5,73.7 779.4,69.3 783.4,65.3 787.5,61.5 791.7,58.1 795.9,54.9 800.3,52.1 804.4,49.7 808.7,47.5 813.1,45.5 817.6,43.8 822.3,42.3 827.2,40.9 832.3,39.8 837.7,38.9 842.9,38.1 848.5,37.6 854.5,37.1 861.1,36.8 875.9,36.5 901.0,36.4 931.0,36.4 946.0,36.7 952.7,36.9 958.9,37.3 964.6,37.8 969.9,38.4 975.4,39.2 980.6,40.2 985.6,41.4 990.4,42.8 995.0,44.4 999.5,46.2 1003.8,48.2 1008.0,50.4 1012.5,53.2 1016.9,56.2 1021.1,59.5 1025.3,63.1 1029.4,67.0 1033.4,71.2 1037.3,75.8 1041.2,80.7 1045.0,86.0 1048.8,91.5 1052.5,97.4 1056.2,103.8 1059.8,110.4 1063.4,117.5 1067.0,125.0 1070.6,132.8 1073.7,140.1 1076.9,147.8 1080.0,155.8 1083.2,164.3 1086.3,173.1 1089.4,182.1 1095.7,201.4 1101.9,222.1 1108.2,244.5 1114.6,268.7 1121.1,294.8 1126.6,317.6 1132.2,342.0 1138.0,368.4 1144.2,397.3 1155.6,452.0 1182.5,584.1 1189.8,618.7 1196.4,649.3 1203.5,681.2 1210.3,709.9 1216.8,736.0 1223.1,759.9 1226.7,772.8 1230.3,784.9 1233.8,796.4 1237.3,807.2 1240.9,817.7 1244.4,827.4 1247.9,836.6 1251.4,845.3 1255.0,853.5 1258.5,861.2 1262.1,868.4 1265.8,875.2 1269.5,881.5 1273.2,887.4 1277.0,892.8 1280.9,897.8 1284.1,901.6 1287.5,905.2 1290.9,908.5 1294.3,911.6 1297.9,914.4 1301.5,916.9 1305.3,919.2 1309.1,921.3 1313.1,923.2 1317.2,924.9 1321.5,926.4 1326.0,927.7 1330.8,928.8 1335.8,929.8 1341.1,930.6 1346.8,931.2 1355.6,931.9 1365.6,932.4 1377.6,932.7 1393.1,932.9 1429.3,933.0 1630.8,933.0 1630.8,941.0 1421.3,941.0 1384.8,940.9 1369.1,940.8 1357.1,940.5 1347.0,940.0 1338.2,939.3 1332.4,938.6 1327.0,937.8 1322.0,936.8 1317.2,935.7 1312.7,934.4 1308.3,932.9 1304.2,931.3 1300.2,929.4 1296.3,927.2 1292.5,924.9 1288.8,922.3 1285.2,919.5 1281.7,916.4 1278.3,913.1 1275.0,909.5 1271.7,905.6 1267.8,900.5 1264.0,895.0 1260.2,889.1 1256.5,882.7 1252.9,875.9 1249.3,868.7 1245.7,860.9 1242.1,852.6 1238.6,843.8 1235.0,834.5 1231.5,824.7 1228.0,814.2 1224.4,803.1 1220.9,791.5 1217.3,779.2 1213.7,766.3 1207.4,742.5 1200.9,716.3 1194.1,687.5 1187.0,655.7 1180.5,625.5 1173.3,591.1 1146.8,461.0 1135.7,407.4 1129.6,379.2 1123.9,353.4 1118.4,329.3 1113.1,306.7 1106.7,281.0 1100.5,257.1 1094.3,235.0 1088.3,214.5 1082.2,195.3 1076.1,177.7 1073.1,169.3 1070.0,161.2 1067.0,153.6 1063.9,146.2 1060.4,138.2 1056.9,130.6 1053.4,123.4 1049.8,116.6 1046.2,110.1 1042.6,104.0 1038.9,98.2 1035.2,92.8 1031.5,87.8 1027.6,83.0 1023.8,78.6 1019.8,74.5 1015.8,70.7 1011.7,67.2 1007.5,63.9 1003.2,61.0 999.1,58.5 994.9,56.2 990.5,54.2 986.0,52.4 981.4,50.8 976.5,49.4 971.5,48.2 966.2,47.2 961.0,46.4 955.5,45.7 949.5,45.2 943.1,44.9 928.5,44.5 905.5,44.4 882.5,44.5 868.0,44.9 861.5,45.2 855.6,45.7 850.0,46.4 844.8,47.2 839.6,48.2 834.5,49.4 829.7,50.8 825.0,52.4 820.5,54.2 816.2,56.2 811.9,58.5 807.8,61.0 803.5,63.9 799.3,67.2 795.2,70.7 791.2,74.5 787.3,78.6 783.4,83.0 779.6,87.8 775.8,92.8 772.1,98.2 768.4,104.0 764.8,110.1 761.2,116.6 757.7,123.4 754.1,130.6 750.6,138.2 747.1,146.2 744.1,153.6 741.0,161.2 738.0,169.3 734.9,177.7 728.9,195.3 722.8,214.5 716.7,235.0 710.6,257.1 704.3,281.0 698.0,306.7 692.6,329.3 687.1,353.4 681.4,379.2 675.4,407.4 664.2,461.0 637.7,591.1 630.5,625.5 624.0,655.7 616.9,687.5 610.2,716.3 603.7,742.5 597.4,766.3 593.8,779.2 590.2,791.5 586.6,803.1 583.1,814.2 579.5,824.7 576.0,834.5 572.5,843.8 568.9,852.6 565.4,860.9 561.8,868.7 558.2,875.9 554.5,882.7 550.8,889.1 547.1,895.0 543.3,900.5 539.4,905.6 536.1,909.5 532.7,913.1 529.3,916.4 525.8,919.5 522.2,922.3 518.6,924.9 514.8,927.2 510.9,929.4 506.9,931.3 502.7,932.9 498.4,934.4 493.8,935.7 489.1,936.8 484.0,937.8 478.6,938.6 472.8,939.3 464.1,940.0 454.0,940.5 441.9,940.8 426.3,940.9 389.8,941.0 180.2,941.0Z"/></g>
<g><path fill="#000" d="M328 911h2v2h-2zM328 919h2v2h-2zM328 927h2v2h-2zM328 935h2v1h-2zM616 911h2v2h-2zM616 919h2v2h-2zM616 927h2v2h-2zM616 935h2v1h-2zM904 911h2v2h-2zM904 919h2v2h-2zM904 927h2v2h-2zM904 935h2v1h-2zM1193 911h2v2h-2zM1193 919h2v2h-2zM1193 927h2v2h-2zM1193 935h2v1h-2zM1481 911h2v2h-2zM1481 919h2v2h-2zM1481 927h2v2h-2zM1481 935h2v1h-2zM193 219h2v2h-2zM202 219h2v2h-2zM211 219h2v2h-2zM1551 219h2v2h-2zM1560 219h2v2h-2zM1569 219h2v2h-2zM1578 219h2v2h-2zM1587 219h2v2h-2zM1597 219h2v2h-2zM1606 219h2v2h-2zM1615 219h2v2h-2zM1623 219h2v2h-2zM193 398h2v2h-2zM202 398h2v2h-2zM211 398h2v2h-2zM1551 398h2v2h-2zM1560 398h2v2h-2zM1569 398h2v2h-2zM1578 398h2v2h-2zM1587 398h2v2h-2zM1597 398h2v2h-2zM1606 398h2v2h-2zM1615 398h2v2h-2zM1623 398h2v2h-2zM193 577h2v2h-2zM202 577h2v2h-2zM211 577h2v2h-2zM1551 577h2v2h-2zM1560 577h2v2h-2zM1569 577h2v2h-2zM1578 577h2v2h-2zM1587 577h2v2h-2zM1597 577h2v2h-2zM1606 577h2v2h-2zM1615 577h2v2h-2zM1623 577h2v2h-2zM193 757h2v2h-2zM202 757h2v2h-2zM211 757h2v2h-2zM1551 757h2v2h-2zM1560 757h2v2h-2zM1569 757h2v2h-2zM1578 757h2v2h-2zM1587 757h2v2h-2zM1597 757h2v2h-2zM1606 757h2v2h-2zM1615 757h2v2h-2zM1623 757h2v2h-2z"/><rect x="183" y="39" width="3" height="899" fill="#000"/><rect x="1625" y="39" width="2" height="899" fill="#000"/><rect x="183" y="39" width="1444" height="2" fill="#000"/><rect x="183" y="936" width="1444" height="2" fill="#000"/><rect x="186" y="846" width="14" height="2" fill="#000"/><rect x="1611" y="846" width="14" height="2" fill="#000"/><rect x="186" y="667" width="14" height="2" fill="#000"/><rect x="1611" y="667" width="14" height="2" fill="#000"/><rect x="186" y="488" width="14" height="2" fill="#000"/><rect x="1611" y="488" width="14" height="2" fill="#000"/><rect x="186" y="308" width="14" height="2" fill="#000"/><rect x="1611" y="308" width="14" height="2" fill="#000"/><rect x="186" y="129" width="14" height="2" fill="#000"/><rect x="1611" y="129" width="14" height="2" fill="#000"/><rect x="472" y="923" width="2" height="13" fill="#000"/><rect x="472" y="41" width="2" height="13" fill="#000"/><rect x="760" y="923" width="2" height="13" fill="#000"/><rect x="760" y="41" width="2" height="13" fill="#000"/><rect x="1048" y="923" width="3" height="13" fill="#000"/><rect x="1048" y="41" width="3" height="13" fill="#000"/><rect x="1337" y="923" width="2" height="13" fill="#000"/><rect x="1337" y="41" width="2" height="13" fill="#000"/></g>
<g class="t" fill="#000"><text transform="translate(89.02 777.06) scale(1.0780 1)" font-size="56.20">0.2</text><text transform="translate(87.75 597.74) scale(1.0780 1)" font-size="56.20">0.4</text><text transform="translate(88.65 418.42) scale(1.0780 1)" font-size="56.20">0.6</text><text transform="translate(88.59 239.10) scale(1.0780 1)" font-size="56.20">0.8</text><text transform="translate(138.68 956.68) scale(1.0780 1)" font-size="56.20">0</text><g clip-path="url(#c1)"><text transform="translate(149.40 58.81) scale(1.0780 1)" font-size="56.20">1</text></g><text transform="translate(890.64 989.17) scale(1.0780 1)" font-size="56.20">0</text><text transform="translate(1153.44 989.17) scale(1.0780 1)" font-size="56.20">0.2</text><text transform="translate(1441.44 989.17) scale(1.0780 1)" font-size="56.20">0.4</text><text transform="translate(268.58 992.63) scale(0.8787 1)" font-size="56.20">−</text><text transform="translate(297.84 989.17) scale(1.0780 1)" font-size="56.20">0.4</text><text transform="translate(556.37 992.63) scale(0.9190 1)" font-size="56.20">−</text><text transform="translate(586.44 989.17) scale(1.0780 1)" font-size="56.20">0.2</text><text transform="translate(640.45 1047.93) scale(1.0812 1)" font-size="65.41">Wavelength (nm)</text><text transform="translate(72.00 727.05) scale(1.1792 1) rotate(-90)" font-size="62.86">Normalized ISRF</text></g>
<g><rect x="1120" y="39" width="507" height="183" fill="#fff"/><rect x="1120" y="39" width="3" height="183" fill="#000"/><rect x="1624" y="39" width="3" height="183" fill="#000"/><rect x="1120" y="39" width="507" height="2" fill="#000"/><rect x="1120" y="220" width="507" height="2" fill="#000"/><rect x="1136" y="71" width="66" height="8" fill="#ff0000"/><rect x="1136" y="127" width="66" height="8" fill="#000000"/><rect x="1136" y="183" width="66" height="8" fill="#0000ff"/></g>
<g class="t" fill="#000"><text transform="translate(1227.43 94.74) scale(1.0698 1)" font-size="59.59">ISRF NIR</text><g clip-path="url(#c2)"><text transform="translate(1227.43 150.74) scale(1.0698 1)" font-size="59.59">ISRF SWIR-1</text></g><text transform="translate(1227.43 206.94) scale(1.0698 1)" font-size="59.59">ISRF SWIR-2</text></g>
</svg>
</body></html>
